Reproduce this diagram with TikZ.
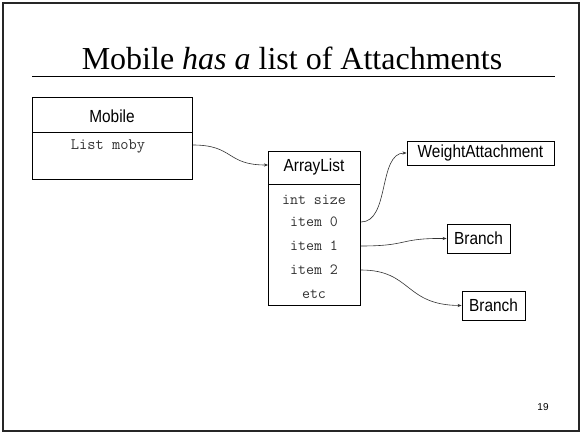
\documentclass[tikz,border=0pt]{standalone}
\usepackage{fontspec}
\setmainfont{Liberation Serif}
\newfontfamily\boxfont[FakeStretch=0.88]{Liberation Sans}
\newfontfamily\numfont{Liberation Sans}
\usetikzlibrary{arrows.meta}
\begin{document}
\begin{tikzpicture}[x=1pt,y=1pt,
  box/.style={draw=black, line width=0.9pt, inner sep=0pt},
  clsname/.style={font=\boxfont\fontsize{17.5}{20}\selectfont, inner sep=0pt},
  field/.style={font=\ttfamily\fontsize{15.5}{18}\selectfont, text=black!80, inner sep=0pt},
  link/.style={draw=black!80, line width=0.6pt, -{Stealth[length=4pt,width=3.2pt]}},
  ]
\useasboundingbox (0,0) rectangle (582,-434);
\fill[white] (0,0) rectangle (582,-434);
\draw[line width=2pt, black!85] (3,-3) rectangle (579,-431);

% title
\node[anchor=base, inner sep=0pt, font=\fontsize{32}{38}\selectfont] (title) at (292,-69) {Mobile \textit{has a} list of Attachments};
\draw[line width=0.8pt] (32,-76) -- (555,-76);

% Mobile box
\node[box, minimum width=160pt, minimum height=82pt, anchor=north west] (mobile) at (32,-97) {};
\node[clsname] (mobiletitle) at (112,-116) {Mobile};
\draw[line width=0.9pt] (32,-132) -- (192,-132);
\node[field, font=\ttfamily\fontsize{16}{18}\selectfont] (moby) at (108,-146) {List moby};

% ArrayList box
\node[box, minimum width=92pt, minimum height=154pt, anchor=north west] (al) at (268,-151) {};
\node[clsname] (altitle) at (314,-167) {ArrayList};
\draw[line width=0.9pt] (268,-184) -- (360,-184);
\node[field] (size) at (314,-200) {int size};
\node[field] (item0) at (314,-222) {item 0};
\node[field] (item1) at (314,-246) {item 1};
\node[field] (item2) at (314,-270) {item 2};
\node[field] (etc) at (314,-294) {etc};

% targets
\node[box, clsname, draw, minimum width=147pt, minimum height=24pt] (weight) at (480.5,-153) {WeightAttachment};
\node[box, clsname, draw, minimum width=63pt, minimum height=29pt] (branch1) at (478.5,-238.5) {Branch};
\node[box, clsname, draw, minimum width=63pt, minimum height=29pt] (branch2) at (493.5,-305.5) {Branch};

% connectors
\draw[link] (mobile.east |- 0,-145) .. controls (234,-145) and (226,-165) .. (al.west |- 0,-165);
\draw[link] (al.east |- item0) .. controls (390,-222) and (378,-153) .. (weight.west);
\draw[link] (al.east |- item1) .. controls (410,-246) and (398,-238) .. (branch1.west);
\draw[link] (al.east |- item2) .. controls (412,-270) and (404,-305) .. (branch2.west);

% page number
\node[inner sep=0pt, font=\numfont\fontsize{10}{12}\selectfont] (pnum) at (543,-407) {19};
\end{tikzpicture}
\end{document}
